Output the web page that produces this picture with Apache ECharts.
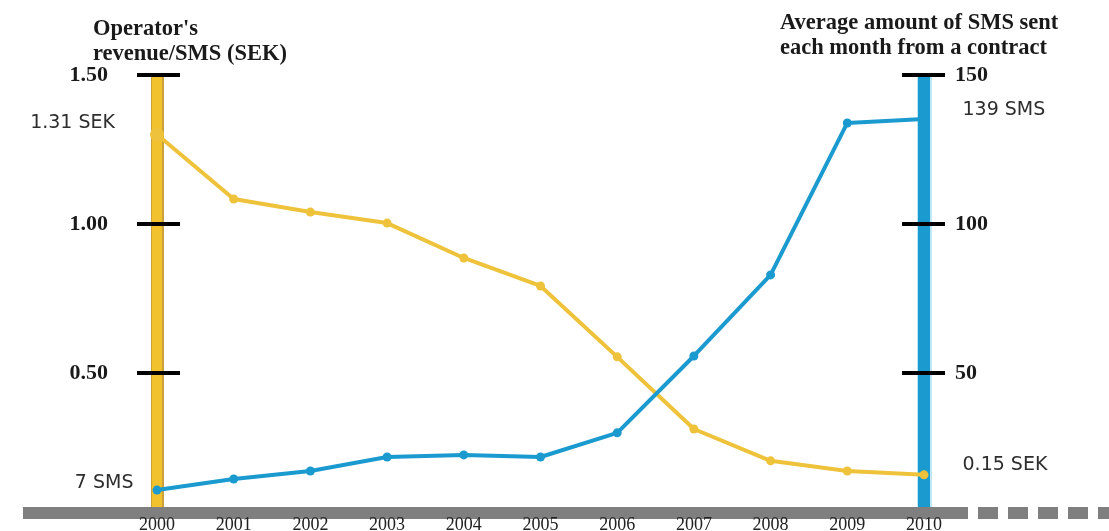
<!DOCTYPE html>
<html>
<head>
<meta charset="utf-8">
<script src="https://cdn.jsdelivr.net/npm/echarts@6/dist/echarts.min.js"></script>
<style>
  html, body { margin: 0; padding: 0; background: #ffffff; }
  #chart { width: 1109px; height: 531px; }
</style>
</head>
<body>
<div id="chart"></div>
<script>
// ---- data ----
const years = ['2000', '2001', '2002', '2003', '2004', '2005', '2006', '2007', '2008', '2009', '2010'];
const revenueSEK = [1.30, 1.084, 1.04, 1.003, 0.886, 0.792, 0.554, 0.312, 0.205, 0.171, 0.158];
const smsPerMonth = [10.7, 14.4, 17.1, 21.8, 22.5, 21.8, 29.9, 55.7, 82.9, 133.9, 135.2];
const leftTickValues = [0.5, 1.0, 1.5];
const rightTickValues = [50, 100, 150];
const leftTitle = "Operator's\nrevenue/SMS (SEK)";
const rightTitle = 'Average amount of SMS sent\neach month from a contract';
const revStartLabel = '1.31 SEK';
const revEndLabel = '0.15 SEK';
const smsStartLabel = '7 SMS';
const smsEndLabel = '139 SMS';

// ---- styles ----
const YELLOW = '#F2C12E';
const YELLOW_EDGE = '#C9A23A';
const YELLOW_LINE = '#EEC23A';
const BLUE = '#1B9AD0';
const BLUE_HALO = '#BFE8F7';
const GRAY = '#7F7F7F';
const SERIF = '"Liberation Serif", "Times New Roman", serif';
const SANS = '"DejaVu Sans", sans-serif';

const annoStyle = { fontFamily: SANS, fontSize: 19, color: '#2e2e2e' };

const revData = revenueSEK.map((v, i) => {
  if (i === 0) return { value: v, symbolSize: 14,
    label: Object.assign({ show: true, formatter: revStartLabel, position: 'left', distance: 35, offset: [0, -12] }, annoStyle) };
  if (i === revenueSEK.length - 1) return { value: v,
    label: Object.assign({ show: true, formatter: revEndLabel, position: 'right', distance: 34, offset: [0, -10] }, annoStyle) };
  return v;
});
const smsData = smsPerMonth.map((v, i) => {
  if (i === 0) return { value: v,
    label: Object.assign({ show: true, formatter: smsStartLabel, position: 'left', distance: 19, offset: [0, -7] }, annoStyle) };
  if (i === smsPerMonth.length - 1) return { value: v,
    label: Object.assign({ show: true, formatter: smsEndLabel, position: 'right', distance: 34, offset: [0, -9] }, annoStyle) };
  return v;
});

const GRID_TOP = 75, GRID_BOTTOM = 18;
const hidden = { show: false };

const option = {
  backgroundColor: '#ffffff',
  animation: false,
  title: [
    { text: leftTitle, left: 93, top: 17, padding: 0,
      textStyle: { fontFamily: SERIF, fontWeight: 'bold', fontSize: 22.5, lineHeight: 25, color: '#1a1a1a' } },
    { text: rightTitle, left: 780, top: 11, padding: 0,
      textStyle: { fontFamily: SERIF, fontWeight: 'bold', fontSize: 22.5, lineHeight: 25, color: '#1a1a1a' } }
  ],
  grid: [
    { left: 157, right: 185, top: GRID_TOP, bottom: GRID_BOTTOM, outerBoundsMode: 'none', containLabel: false },
    { left: 23, right: 141, top: GRID_TOP, bottom: GRID_BOTTOM, outerBoundsMode: 'none', containLabel: false },
    { left: 978, right: 0, top: GRID_TOP, bottom: GRID_BOTTOM, outerBoundsMode: 'none', containLabel: false }
  ],
  xAxis: [
    { gridIndex: 0, type: 'category', data: years, boundaryGap: false,
      axisLine: hidden, axisTick: hidden, splitLine: hidden,
      axisLabel: { fontFamily: SERIF, fontSize: 18, color: '#222', margin: 3 } },
    { gridIndex: 1, type: 'value', min: 0, max: 1,
      axisLine: { show: true, lineStyle: { color: GRAY, width: 12, cap: 'butt' } },
      axisTick: hidden, axisLabel: hidden, splitLine: hidden },
    { gridIndex: 2, type: 'value', min: 0, max: 1,
      axisLine: { show: true, lineStyle: { color: GRAY, width: 12, type: [20, 10], cap: 'butt' } },
      axisTick: hidden, axisLabel: hidden, splitLine: hidden }
  ],
  yAxis: [
    // left: yellow bar outline
    { gridIndex: 0, type: 'value', position: 'left', min: 0.03, max: 1.5,
      axisLine: { show: true, lineStyle: { color: YELLOW_EDGE, width: 13, cap: 'butt' } },
      axisTick: hidden, axisLabel: hidden, splitLine: hidden },
    // left: yellow bar
    { gridIndex: 0, type: 'value', position: 'left', min: 0.03, max: 1.5,
      axisLine: { show: true, lineStyle: { color: YELLOW, width: 10, cap: 'butt' } },
      axisTick: hidden, axisLabel: hidden, splitLine: hidden },
    // left: ticks + labels
    { gridIndex: 0, type: 'value', position: 'left', offset: -23, min: 0.03, max: 1.5,
      axisLine: hidden, splitLine: hidden,
      axisTick: { show: true, customValues: leftTickValues, length: 43, lineStyle: { color: '#000', width: 4 } },
      axisLabel: { show: true, customValues: leftTickValues, margin: 72, formatter: v => v.toFixed(2),
        fontFamily: SERIF, fontWeight: 'bold', fontSize: 22, color: '#1a1a1a' } },
    // right: blue halo
    { gridIndex: 0, type: 'value', position: 'right', min: 3, max: 150,
      axisLine: { show: true, lineStyle: { color: BLUE_HALO, width: 15, cap: 'butt' } },
      axisTick: hidden, axisLabel: hidden, splitLine: hidden },
    // right: blue bar
    { gridIndex: 0, type: 'value', position: 'right', min: 3, max: 150,
      axisLine: { show: true, lineStyle: { color: BLUE, width: 12, cap: 'butt' } },
      axisTick: hidden, axisLabel: hidden, splitLine: hidden },
    // right: ticks + labels
    { gridIndex: 0, type: 'value', position: 'right', offset: -22, min: 3, max: 150,
      axisLine: hidden, splitLine: hidden,
      axisTick: { show: true, customValues: rightTickValues, length: 43, lineStyle: { color: '#000', width: 4 } },
      axisLabel: { show: true, customValues: rightTickValues, margin: 53, formatter: v => String(v),
        fontFamily: SERIF, fontWeight: 'bold', fontSize: 22, color: '#1a1a1a' } },
    { gridIndex: 1, type: 'value', show: false },
    { gridIndex: 2, type: 'value', show: false }
  ],
  series: [
    { type: 'line', xAxisIndex: 0, yAxisIndex: 1, data: revData,
      symbol: 'circle', symbolSize: 9,
      lineStyle: { color: YELLOW_LINE, width: 4 },
      itemStyle: { color: YELLOW_LINE }, z: 3 },
    { type: 'line', xAxisIndex: 0, yAxisIndex: 4, data: smsData,
      symbol: 'circle', symbolSize: 9,
      lineStyle: { color: BLUE, width: 4 },
      itemStyle: { color: BLUE }, z: 4 }
  ]
};

const chart = echarts.init(document.getElementById('chart'), null, { renderer: 'canvas' });
chart.setOption(option);
</script>
</body>
</html>
